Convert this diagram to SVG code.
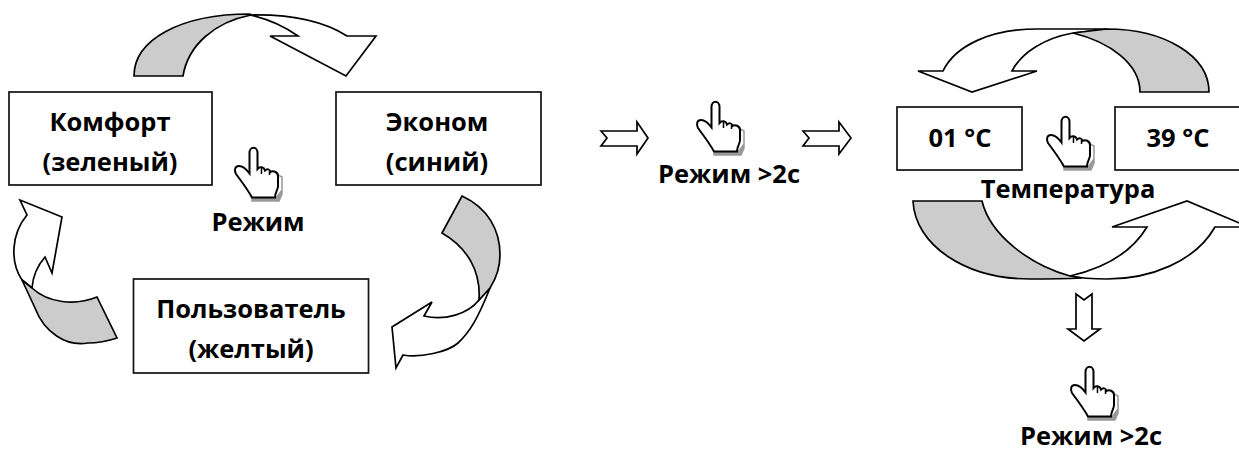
<svg xmlns="http://www.w3.org/2000/svg" width="1239" height="452" viewBox="0 0 1239 452">
<style>
.box{fill:#fff;stroke:#111;stroke-width:1.7}
.w{fill:#fff;stroke:#000;stroke-width:1.7;stroke-linejoin:miter}
.g{fill:#ccc;stroke:#000;stroke-width:1.7;stroke-linejoin:miter}
.t{font-family:"Open Sans","Liberation Sans",sans-serif;font-weight:700;font-size:25.500px;fill:#000;text-anchor:middle}
.ln{fill:none;stroke:#000;stroke-width:1.5}
</style>
<defs>
<g id="hand">
<path d="M32 58 H55 V61 H32Z M58 35 L62 37 V50 L56 58 V61 H59 L62 54 V37Z" fill="#999" stroke="#999" stroke-width="1.5"/>
<path class="w" style="stroke-width:2" d="M32 57.500 C28 50 22 42 16 34 C14 30 15 26 19 26 C23 26 27 30 29.500 33.500 V13 C29.500 6 37.500 6 37.500 13 V29 C40 26 44 27 45 30.500 C47 28.500 50 29 50.500 32 C53 30 58 32 58 36 V46 C58 50 55 52 55 57.500 Z"/>
<path class="ln" d="M41.500 28 V34 M49.500 31 V35"/>
</g>
</defs>
<g id="connectors">
<g id="arrow-top-left">
<path class="w" d="M250 15 C295 14 325 22 347 36 H376 L346 76 L270 36 H298 C285 27 268 19 250 15Z"/>
<path class="g" d="M134 76 C134 40 180 14 250 14 L251 15 C215 22 188 45 183 76Z"/>
</g>
<g id="arrow-right">
<path class="w" d="M490 288 C478 318 470 332 458 343 C448 352 420 358 403 355 L396 368 L392 327 L432 302 L424 316 C445 321 468 314 479 300Z"/>
<path class="g" d="M462 196 C488 208 500 230 500 255 C500 268 497 277 490 288 L479 300 C481 272 468 248 442 233Z"/>
</g>
<g id="arrow-left">
<path class="w" d="M22 280 C10 262 11 234 27 215 L20 200 L62 217 L52 273 L45 257 C38 265 33 275 32 288Z"/>
<path class="g" d="M22 280 L35 308 C44 332 66 347 88 343 C98 343 108 341 117 338 L97 297 C75 306 48 303 32 288Z"/>
</g>
<g id="arrow-temp-top">
<path class="w" d="M1107 29 H1037 C990 29 955 46 943 71 H918 L972 92 L1037 71 H1012 C1022 52 1045 38 1073 33Z"/>
<path class="g" d="M1209 92 C1209 56 1165 29 1107 29 L1073 33 C1110 42 1140 64 1140 92Z"/>
</g>
<g id="arrow-temp-bottom">
<path class="w" d="M1070 276 C1105 268 1132 252 1147 227 H1112 L1187 201 L1249 227 H1215 C1195 262 1150 279 1107 279 C1090 279 1080 278 1070 276Z"/>
<path class="g" d="M913 201 H982 C990 235 1030 265 1070 276 L1082 278 C1060 279 1045 279 1030 279 C965 279 915 245 913 201Z"/>
</g>
<path id="arrow-step-1" class="w" d="M601 131 L607 138 L601 146 H637 V154 L648 138 L637 122 V131Z"/>
<path id="arrow-step-2" class="w" d="M803 131 L809 138 L803 146 H839 V154 L851 138 L839 122 V131Z"/>
<path id="arrow-step-3" class="w" d="M1076 294 L1084 300 L1092 294 V329 H1100 L1084 341 L1068 329 H1076Z"/>
</g>
<g id="node-komfort"><rect class="box" x="9" y="92" width="203" height="93"/><text class="t" x="110" y="131">Комфорт</text><text class="t" x="110" y="171">(зеленый)</text></g>
<g id="node-ekonom"><rect class="box" x="336" y="92" width="205" height="93"/><text class="t" x="437" y="131">Эконом</text><text class="t" x="437" y="171">(синий)</text></g>
<g id="node-user"><rect class="box" x="133.500" y="279" width="235" height="94"/><text class="t" x="251" y="318">Пользователь</text><text class="t" x="251" y="358">(желтый)</text></g>
<g id="node-01"><rect class="box" x="897" y="107" width="125" height="63"/><text class="t" x="960" y="147">01 °C</text></g>
<g id="node-39"><rect class="box" x="1115" y="107" width="135" height="63"/><text class="t" x="1178" y="147">39 °C</text></g>
<g id="hand-mode"><use href="#hand" x="220" y="140"/><text class="t" x="258" y="231">Режим</text></g>
<g id="hand-long-1"><use href="#hand" x="682" y="94"/><text class="t" x="729" y="183">Режим &gt;2с</text></g>
<g id="hand-temp"><use href="#hand" x="1032" y="109"/><text class="t" x="1068" y="198">Температура</text></g>
<g id="hand-long-2"><use href="#hand" x="1056" y="359"/><text class="t" x="1091" y="445">Режим &gt;2с</text></g>
</svg>
